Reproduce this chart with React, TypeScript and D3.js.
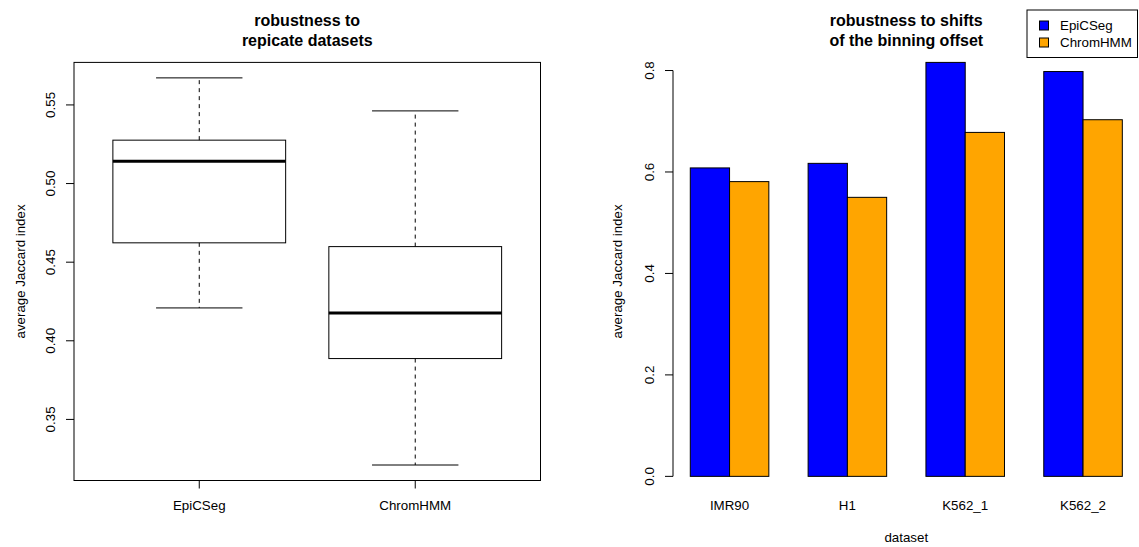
import React, { useEffect } from "react";
import * as d3 from "d3";

// ---- Left panel: box plot data ----
const boxMethods = ["EpiCSeg", "ChromHMM"];
const boxLower = [0.4209, 0.321];
const boxQ1 = [0.4623, 0.3887];
const boxMedian = [0.5142, 0.4176];
const boxQ3 = [0.5276, 0.4599];
const boxUpper = [0.5672, 0.5462];
const leftTicks = [0.35, 0.4, 0.45, 0.5, 0.55];

// ---- Right panel: grouped bar data ----
const datasets = ["IMR90", "H1", "K562_1", "K562_2"];
const seriesNames = ["EpiCSeg", "ChromHMM"];
const epicsegValues = [0.608, 0.617, 0.816, 0.798];
const chromhmmValues = [0.581, 0.55, 0.678, 0.703];
const seriesColors = ["#0000FF", "#FFA500"];
const rightTicks = [0, 0.2, 0.4, 0.6, 0.8];

const FONT = "'Liberation Sans', Arial, Helvetica, sans-serif";
const FS = 13.33;

export default function App() {
  useEffect(() => {
    document.body.style.margin = "0";
  }, []);

  const W = 1139;
  const H = 547;
  const top = 62.4;
  const bottom = 480.5;

  // left scales
  const lo = d3.min(boxLower) as number;
  const hi = d3.max(boxUpper) as number;
  const pad = 0.04 * (hi - lo);
  const yL = d3.scaleLinear().domain([lo - pad, hi + pad]).range([bottom, top]);
  const xL = d3
    .scaleLinear()
    .domain([0.5 - 0.08, boxMethods.length + 0.5 + 0.08])
    .range([74, 540.5]);
  const lLeft = 74;
  const lRight = 540.5;

  // right scales
  const allVals = [...epicsegValues, ...chromhmmValues];
  const vmax = d3.max(allVals) as number;
  const yR = d3.scaleLinear().domain([-0.01 * vmax, vmax]).range([bottom, top]);
  const nBarsEnd = datasets.length * 3;
  const xmin = 1,
    xmax = nBarsEnd;
  const xpad = 0.04 * (xmax - xmin);
  const xR = d3.scaleLinear().domain([xmin - xpad, xmax + xpad]).range([673, 1139.6]);
  const rLeft = 673;
  const series = [epicsegValues, chromhmmValues];

  const boxW = 0.8;
  const capW = 0.4;

  return (
    <svg
      width={W}
      height={H}
      style={{ position: "absolute", left: 0, top: 0, background: "#fff" }}
      fontFamily={FONT}
    >
      <rect x={0} y={0} width={W} height={H} fill="#fff" />
      {/* ===== LEFT PANEL ===== */}
      <text x={(lLeft + lRight) / 2} y={20} dy="0.35em" textAnchor="middle" fontWeight="bold" fontSize={16}>
        robustness to
      </text>
      <text x={(lLeft + lRight) / 2} y={40} dy="0.35em" textAnchor="middle" fontWeight="bold" fontSize={16}>
        repicate datasets
      </text>
      {boxMethods.map((m, i) => {
        const c = xL(i + 1);
        const bx0 = xL(i + 1 - boxW / 2);
        const bx1 = xL(i + 1 + boxW / 2);
        const cx0 = xL(i + 1 - capW / 2);
        const cx1 = xL(i + 1 + capW / 2);
        return (
          <g key={m}>
            <line x1={c} x2={c} y1={yL(boxQ3[i])} y2={yL(boxUpper[i])} stroke="#000" strokeWidth={1} strokeDasharray="4,4" />
            <line x1={c} x2={c} y1={yL(boxQ1[i])} y2={yL(boxLower[i])} stroke="#000" strokeWidth={1} strokeDasharray="4,4" />
            <line x1={cx0} x2={cx1} y1={yL(boxUpper[i])} y2={yL(boxUpper[i])} stroke="#000" strokeWidth={1} />
            <line x1={cx0} x2={cx1} y1={yL(boxLower[i])} y2={yL(boxLower[i])} stroke="#000" strokeWidth={1} />
            <rect
              x={bx0}
              y={yL(boxQ3[i])}
              width={bx1 - bx0}
              height={yL(boxQ1[i]) - yL(boxQ3[i])}
              fill="none"
              stroke="#000"
              strokeWidth={1}
            />
            <line x1={bx0} x2={bx1} y1={yL(boxMedian[i])} y2={yL(boxMedian[i])} stroke="#000" strokeWidth={3} />
            <line x1={c} x2={c} y1={bottom} y2={bottom + 8} stroke="#000" strokeWidth={1} />
            <text x={c} y={505} dy="0.35em" textAnchor="middle" fontSize={FS}>
              {m}
            </text>
          </g>
        );
      })}
      <rect x={lLeft} y={top} width={lRight - lLeft} height={bottom - top} fill="none" stroke="#000" strokeWidth={1} />
      {leftTicks.map((t) => (
        <g key={t}>
          <line x1={lLeft - 8} x2={lLeft} y1={yL(t)} y2={yL(t)} stroke="#000" strokeWidth={1} />
          <text
            transform={`translate(50,${yL(t)}) rotate(-90)`}
            dy="0.35em"
            textAnchor="middle"
            fontSize={FS}
          >
            {d3.format(".2f")(t)}
          </text>
        </g>
      ))}
      <text
        transform={`translate(20,${(top + bottom) / 2}) rotate(-90)`}
        dy="0.35em"
        textAnchor="middle"
        fontSize={FS}
      >
        average Jaccard index
      </text>

      {/* ===== RIGHT PANEL ===== */}
      <text x={906.3} y={20} dy="0.35em" textAnchor="middle" fontWeight="bold" fontSize={16}>
        robustness to shifts
      </text>
      <text x={906.3} y={40} dy="0.35em" textAnchor="middle" fontWeight="bold" fontSize={16}>
        of the binning offset
      </text>
      {datasets.map((d, g) =>
        series.map((vals, s) => {
          const x0 = xR(1 + 3 * g + s);
          const x1 = xR(2 + 3 * g + s);
          return (
            <rect
              key={d + s}
              x={x0}
              y={yR(vals[g])}
              width={x1 - x0}
              height={yR(0) - yR(vals[g])}
              fill={seriesColors[s]}
              stroke="#000"
              strokeWidth={1}
            />
          );
        })
      )}
      {datasets.map((d, g) => (
        <text key={d} x={xR(2 + 3 * g)} y={505} dy="0.35em" textAnchor="middle" fontSize={FS}>
          {d}
        </text>
      ))}
      <line x1={rLeft} x2={rLeft} y1={yR(rightTicks[0])} y2={yR(rightTicks[rightTicks.length - 1])} stroke="#000" strokeWidth={1} />
      {rightTicks.map((t) => (
        <g key={t}>
          <line x1={rLeft - 8} x2={rLeft} y1={yR(t)} y2={yR(t)} stroke="#000" strokeWidth={1} />
          <text
            transform={`translate(649.3,${yR(t)}) rotate(-90)`}
            dy="0.35em"
            textAnchor="middle"
            fontSize={FS}
          >
            {d3.format(".1f")(t)}
          </text>
        </g>
      ))}
      <text
        transform={`translate(617,${(top + bottom) / 2}) rotate(-90)`}
        dy="0.35em"
        textAnchor="middle"
        fontSize={FS}
      >
        average Jaccard index
      </text>
      <text x={906.3} y={537.5} dy="0.35em" textAnchor="middle" fontSize={FS}>
        dataset
      </text>

      {/* legend */}
      <rect x={1027} y={10} width={110.5} height={47.5} fill="#fff" stroke="#000" strokeWidth={1} />
      {seriesNames.map((n, i) => {
        const cy = 25.5 + i * 17;
        return (
          <g key={n}>
            <rect x={1039.5} y={cy - 4.5} width={9} height={9} fill={seriesColors[i]} stroke="#000" strokeWidth={1} />
            <text x={1060} y={cy} dy="0.35em" fontSize={FS}>
              {n}
            </text>
          </g>
        );
      })}
    </svg>
  );
}
